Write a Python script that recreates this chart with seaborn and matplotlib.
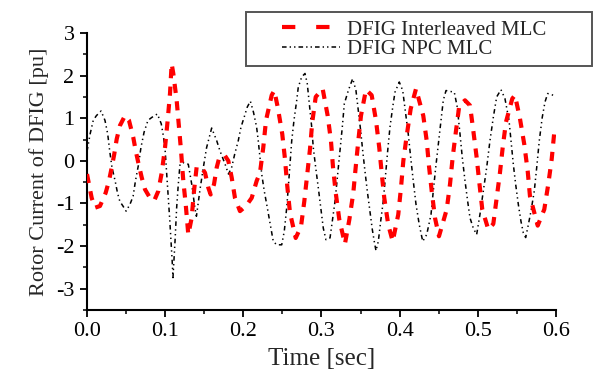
import numpy as np
import pandas as pd
import matplotlib
matplotlib.use("Agg")
import matplotlib.pyplot as plt
from matplotlib.patches import Rectangle
from matplotlib.ticker import MultipleLocator
import seaborn as sns

# ---- data ----
t_npc = [0.000, 0.004, 0.008, 0.012, 0.018, 0.023, 0.0265, 0.029, 0.032, 0.036, 0.039, 0.042,
         0.046, 0.050, 0.055, 0.059, 0.062, 0.066, 0.069, 0.073, 0.078, 0.083, 0.090, 0.095,
         0.098, 0.100, 0.102, 0.104, 0.106, 0.1075, 0.109, 0.110, 0.1126, 0.1147, 0.1168, 0.119,
         0.124, 0.1296, 0.134, 0.138, 0.140, 0.1446, 0.1488, 0.153, 0.1595, 0.166, 0.170, 0.1765,
         0.181, 0.185, 0.189, 0.1935, 0.197, 0.201, 0.205, 0.209, 0.213, 0.217, 0.2191, 0.2213,
         0.2235, 0.2268, 0.2299, 0.2341, 0.2383, 0.2427, 0.2491, 0.2524, 0.2555, 0.2575, 0.2597,
         0.2619, 0.2648, 0.2683, 0.2703, 0.2747, 0.2789, 0.2818, 0.2844, 0.2875, 0.2895, 0.2926,
         0.2959, 0.2990, 0.3023, 0.3057, 0.3109, 0.3138, 0.3173, 0.3207, 0.3237, 0.3266, 0.3292,
         0.3343, 0.3399, 0.3441, 0.3471, 0.3501, 0.3527, 0.3556, 0.3586, 0.3620, 0.3650, 0.3675,
         0.3697, 0.3727, 0.3757, 0.3790, 0.3821, 0.3847, 0.3876, 0.3911, 0.3940, 0.3995, 0.4039,
         0.4072, 0.4110, 0.4141, 0.4174, 0.4209, 0.4251, 0.4295, 0.4346, 0.4401, 0.4430, 0.4461,
         0.4494, 0.4529, 0.4558, 0.4593, 0.4699, 0.4737, 0.4772, 0.4801, 0.4836, 0.4870, 0.4900,
         0.4942, 0.4985, 0.5027, 0.5070, 0.5113, 0.5155, 0.5198, 0.5241, 0.5296, 0.5347, 0.5399,
         0.5424, 0.5454, 0.5484, 0.5518, 0.5552, 0.5582, 0.5612, 0.5646, 0.5680, 0.5722, 0.5753,
         0.5786, 0.5824, 0.5859, 0.5894, 0.5965, 0.600]
i_npc = [0.22, 0.63, 0.95, 1.06, 1.17, 0.95, 0.63, 0.24, -0.16, -0.47, -0.75, -0.95,
         -1.06, -1.18, -1.02, -0.83, -0.47, -0.08, 0.31, 0.67, 0.95, 1.02, 1.10, 0.87,
         0.55, 0.24, -0.31, -0.87, -1.42, -1.89, -2.36, -2.74, -1.89, -1.10, -0.55, -0.08,
         -0.04, -0.08, -0.55, -1.10, -1.30, -0.67, -0.16, 0.31, 0.77, 0.47, 0.24, -0.07,
         -0.31, -0.16, 0.16, 0.47, 0.79, 1.02, 1.26, 1.40, 1.14, 0.79, 0.47, 0.08,
         -0.31, -0.71, -1.02, -1.46, -1.89, -1.97, -1.97, -1.65, -1.10, -0.63, -0.07,
         0.47, 0.95, 1.42, 1.73, 1.97, 2.05, 1.81, 1.34, 0.79, 0.31, -0.16,
         -0.63, -1.10, -1.58, -1.85, -1.81, -1.42, -0.95, -0.31, 0.24, 0.79, 1.34,
         1.65, 1.93, 1.65, 1.18, 0.71, 0.24, -0.24, -0.71, -1.18, -1.61, -1.89,
         -2.11, -1.89, -1.42, -0.95, -0.31, 0.24, 0.79, 1.26, 1.61, 1.85, 1.65,
         1.18, 0.63, 0.08, -0.47, -1.02, -1.50, -1.89, -1.73, -1.26, -0.71, -0.16,
         0.39, 0.95, 1.42, 1.65, 1.61, 1.26, 0.63, 0.08, -0.47, -0.95, -1.34,
         -1.58, -1.73, -1.26, -0.71, -0.16, 0.47, 1.02, 1.50, 1.67, 1.46, 0.95,
         0.47, -0.08, -0.55, -1.02, -1.42, -1.69, -1.80, -1.50, -1.18, -0.71, -0.16,
         0.47, 1.02, 1.38, 1.58, 1.54, 1.52]

t_il = [0.000, 0.006, 0.0102, 0.0166, 0.0239, 0.0281, 0.0316, 0.0349, 0.038, 0.0422, 0.0486,
        0.0537, 0.0592, 0.0623, 0.0656, 0.070, 0.0742, 0.0806, 0.0861, 0.0912, 0.0956, 0.0998,
        0.1032, 0.1062, 0.1083, 0.1104, 0.1147, 0.1177, 0.1203, 0.1232, 0.1263, 0.1296, 0.1339,
        0.1369, 0.1403, 0.1467, 0.1510, 0.1552, 0.1582, 0.1625, 0.1659, 0.1693, 0.1765, 0.1808,
        0.1851, 0.1893, 0.1957, 0.2034, 0.2107, 0.2171, 0.2213, 0.2255, 0.2290, 0.2363, 0.2396,
        0.2440, 0.2498, 0.2533, 0.2562, 0.2597, 0.2670, 0.2738, 0.2780, 0.2818, 0.2853, 0.2882,
        0.2926, 0.3015, 0.3079, 0.3121, 0.3147, 0.3182, 0.3228, 0.3300, 0.3356, 0.3407, 0.3437,
        0.3471, 0.3505, 0.3569, 0.3642, 0.3697, 0.3739, 0.3770, 0.3803, 0.3854, 0.3911, 0.3982,
        0.4017, 0.4047, 0.4090, 0.4141, 0.4209, 0.4302, 0.4346, 0.4375, 0.4410, 0.4452, 0.4503,
        0.4602, 0.4644, 0.4678, 0.4721, 0.4763, 0.4836, 0.4900, 0.4942, 0.4985, 0.5019, 0.5057,
        0.5134, 0.5198, 0.5241, 0.5283, 0.5318, 0.5360, 0.5441, 0.5475, 0.5539, 0.5594, 0.5638,
        0.5667, 0.5766, 0.5850, 0.5901, 0.5945, 0.5978, 0.600]
i_il = [-0.31, -0.87, -1.10, -1.06, -0.75, -0.47, -0.16, 0.16, 0.51, 0.83, 1.06,
        0.95, 0.55, 0.24, -0.04, -0.39, -0.67, -0.87, -0.93, -0.71, -0.28, 0.31,
        0.95, 1.58, 2.28, 2.05, 1.42, 0.79, 0.24, -0.47, -1.02, -1.73, -1.34,
        -0.71, -0.14, -0.16, -0.28, -0.63, -0.79, -0.55, -0.16, 0.08, 0.12, 0.00,
        -0.39, -0.87, -1.18, -1.06, -0.87, -0.47, -0.28, 0.31, 0.95, 1.54, 1.65,
        1.26, 0.63, 0.04, -0.59, -1.22, -1.81, -1.54, -0.95, -0.31, 0.28, 0.91,
        1.50, 1.69, 1.06, 0.47, -0.14, -0.75, -1.38, -1.95, -1.38, -0.75, -0.16,
        0.47, 1.06, 1.67, 1.54, 0.95, 0.31, -0.28, -0.87, -1.50, -1.89, -1.26,
        -0.63, 0.00, 0.59, 1.22, 1.69, 1.06, 0.47, -0.12, -0.71, -1.34, -1.77,
        -1.14, -0.55, 0.08, 0.71, 1.30, 1.42, 1.30, 0.71, 0.08, -0.51, -1.14,
        -1.61, -1.48, -0.87, -0.28, 0.31, 0.91, 1.46, 1.54, 0.99, 0.39, -0.24,
        -0.83, -1.52, -1.14, -0.55, 0.04, 0.67, 0.80]

labels = ["DFIG Interleaved MLC", "DFIG NPC MLC"]
x_ticks = [0.0, 0.1, 0.2, 0.3, 0.4, 0.5, 0.6]
y_ticks = [-3, -2, -1, 0, 1, 2, 3]

# ---- styling ----
sns.set_theme(style="ticks")
plt.rcParams["font.family"] = ["Liberation Serif", "DejaVu Serif"]
plt.rcParams["axes.linewidth"] = 1.5

fig = plt.figure(figsize=(5.93, 3.78), dpi=100)
ax = fig.add_axes([0.1467, 0.1799, 0.7909, 0.7328])

df_il = pd.DataFrame({"t": t_il, "i": i_il})
df_npc = pd.DataFrame({"t": t_npc, "i": i_npc})

sns.lineplot(data=df_il, x="t", y="i", ax=ax, color="#ff0000", linewidth=3.0,
             estimator=None, sort=False, label=labels[0])
sns.lineplot(data=df_npc, x="t", y="i", ax=ax, color="black", linewidth=1.1,
             estimator=None, sort=False, label=labels[1])
l_il, l_npc = ax.lines[0], ax.lines[1]
l_il.set_dashes((2.2, 2.0))
l_npc.set_dashes((3.0, 2.2, 0.9, 2.2, 0.9, 2.2))
l_il.set_zorder(3)
l_npc.set_zorder(2)

ax.set_xlim(0, 0.6)
ax.set_ylim(-3.5, 3)
ax.set_xticks(x_ticks)
ax.set_xticklabels([f"{v:.1f}" for v in x_ticks])
ax.set_yticks(y_ticks)
ax.set_yticklabels([str(v) for v in y_ticks])
ax.xaxis.set_minor_locator(MultipleLocator(0.05))
ax.yaxis.set_minor_locator(MultipleLocator(0.5))
ax.tick_params(which="major", direction="out", length=5, width=1.3, labelsize=16,
               pad=4, colors="black")
ax.tick_params(which="minor", direction="out", length=3, width=1.1, colors="black")
sns.despine(ax=ax)
for s in ["left", "bottom"]:
    ax.spines[s].set_color("black")

ax.set_xlabel("Time [sec]", fontsize=18, labelpad=5)
ax.set_ylabel("Rotor Current of DFIG [pu]", fontsize=16, labelpad=5)

# legend frame (drawn as a separate box) and legend entries on top of it
box = Rectangle((246 / 593, 1 - 66 / 378), (592 - 246) / 593, 54 / 378,
                transform=fig.transFigure, fill=True, facecolor="white",
                edgecolor="#555555", linewidth=1.4, zorder=8, clip_on=False)
ax.add_patch(box)
leg = ax.legend(loc="upper left", bbox_to_anchor=(0.4755, 0.947),
                bbox_transform=fig.transFigure, frameon=False, fontsize=15,
                handlelength=2.8, handletextpad=0.3, labelspacing=0.0,
                borderpad=0.0, borderaxespad=0.0)
leg.set_zorder(10)
leg_lines = leg.get_lines()
leg_lines[0].set_dashes((3.2, 5.0))
leg_lines[1].set_dashes((3.0, 2.0, 0.9, 2.0, 0.9, 2.0))

fig.savefig("out.png", dpi=100)
